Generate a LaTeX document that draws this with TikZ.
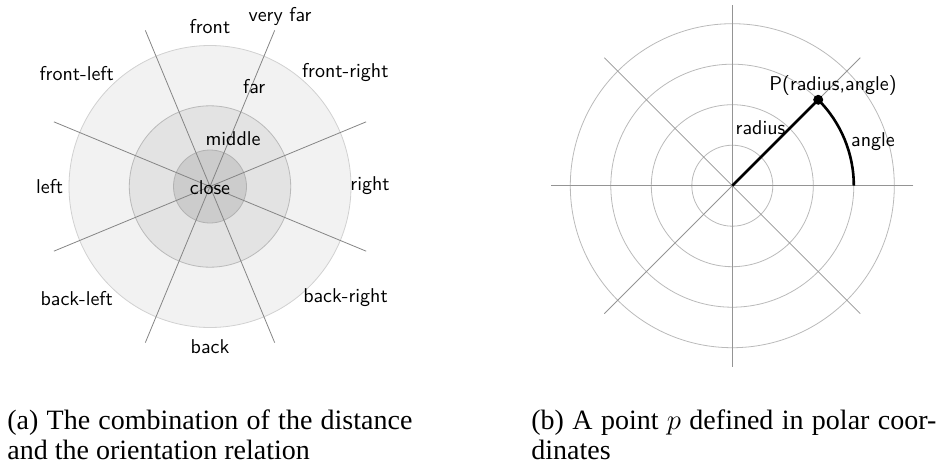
\documentclass[tikz,border=0pt]{standalone}
\usepackage{fontspec}
\setmainfont{Liberation Serif}
\begin{document}
\begin{tikzpicture}[x=0.5pt,y=-0.5pt,
  lbl/.style={font=\sffamily\fontsize{10}{12}\selectfont, inner sep=0pt},
  ray/.style={draw=black!48, line width=0.4pt},
  pgrid/.style={draw=black!27, line width=0.4pt},
  paxis/.style={draw=black!42, line width=0.4pt},
  bold/.style={draw=black, line width=1.3pt},
  captxt/.style={font=\fontsize{14}{15}\selectfont, inner sep=0pt, anchor=base west}]
\path[use as bounding box] (0,0) rectangle (936,466);

% ---- (a) distance and orientation ----
\coordinate (A) at (210,186.5);
\filldraw[fill=black!5, draw=black!18] (A) circle[radius=141];
\filldraw[fill=black!11, draw=black!27] (A) circle[radius=80.7];
\filldraw[fill=black!20, draw=black!30] (A) circle[radius=36.5];
\foreach \a in {22.5,67.5,112.5,157.5}
  \draw[ray] (A) ++(\a:169) -- ++(\a+180:338);

\node[lbl] (front) at (210,26.7) {front};
\node[lbl] (veryfar) at (280,16.7) {very far};
\node[lbl] (frontleft) at (76.7,74) {front-left};
\node[lbl] (frontright) at (345.3,72.5) {front-right};
\node[lbl] (far) at (254.2,87) {far};
\node[lbl] (middle) at (233,139) {middle};
\node[lbl] (left) at (49.7,186.3) {left};
\node[lbl] (close) at (210,188) {close};
\node[lbl] (right) at (370,185.8) {right};
\node[lbl] (backleft) at (76.7,299) {back-left};
\node[lbl] (backright) at (345.5,297.5) {back-right};
\node[lbl] (back) at (210,346.3) {back};

% ---- (b) polar coordinates ----
\coordinate (B) at (732.3,185.7);
\foreach \r in {40.5,81,121.5,162}
  \draw[pgrid] (B) circle[radius=\r];
\foreach \a in {0,45,90,135}
  \draw[paxis] (B) ++(\a:181) -- ++(\a+180:362);
\path (B) ++(-45:121.5) coordinate (P);
\draw[bold] (B) -- (P);
\draw[bold] (P) arc[start angle=-45, end angle=0, radius=121.5];
\fill (P) circle[radius=5];
\node[lbl] (plabel) at (833,85) {P(radius,angle)};
\node[lbl] (rlabel) at (760.5,127.5) {radius};
\node[lbl] (alabel) at (873,141.5) {angle};

% ---- captions ----
\node[captxt] (capa1) at (7,429) {\makebox[202.5pt][s]{(a) The combination of the distance}};
\node[captxt] (capa2) at (7,459) {and the orientation relation};
\node[captxt] (capb1) at (531,429) {\makebox[202.5pt][s]{(b) A point $p$ defined in polar coor-}};
\node[captxt] (capb2) at (531,459) {dinates};
\end{tikzpicture}
\end{document}
